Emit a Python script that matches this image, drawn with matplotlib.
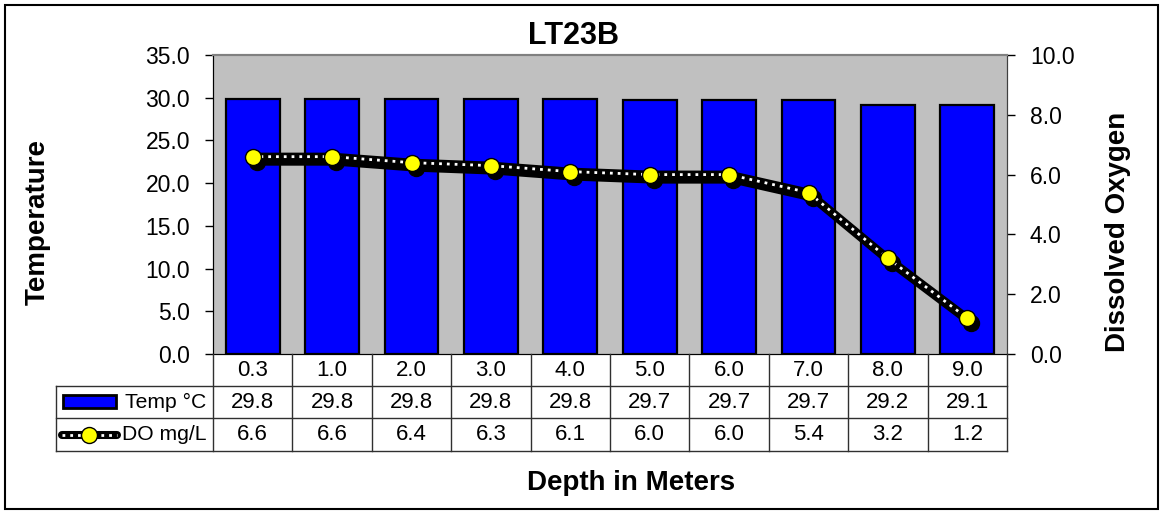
import matplotlib
matplotlib.use('Agg')
import matplotlib.pyplot as plt
import matplotlib.transforms as mtransforms
from matplotlib.patches import Rectangle
from matplotlib.lines import Line2D
import numpy as np

# ---- data ----
depths = ['0.3', '1.0', '2.0', '3.0', '4.0', '5.0', '6.0', '7.0', '8.0', '9.0']
temp_c = [29.8, 29.8, 29.8, 29.8, 29.8, 29.7, 29.7, 29.7, 29.2, 29.1]
do_mgl = [6.6, 6.6, 6.4, 6.3, 6.1, 6.0, 6.0, 5.4, 3.2, 1.2]
temp_ticks = [0, 5, 10, 15, 20, 25, 30, 35]
do_ticks = [0, 2, 4, 6, 8, 10]
title = 'LT23B'
row_labels = ['Temp \u00b0C', 'DO mg/L']

plt.rcParams['font.family'] = ['Liberation Sans', 'DejaVu Sans']

W, H = 1164, 514
fig = plt.figure(figsize=(W / 100, H / 100), dpi=100)
fig.patch.set_facecolor('white')


def fx(x):
    return x / W


def fy(y):
    return 1 - y / H


L, R, T, B = 213, 1007, 55, 354
ROW1, ROW2, ROW3 = 386, 418, 451
LEGL = 56
FS = 16.5
FS_TAB = 16
FS_ROW = 15.2
LW_LINE = 5.8
LW_DOT = 2.0
DOTS = (0, (1, 1.8))
MS = 11.5

ax = fig.add_axes([fx(L), fy(B), (R - L) / W, (B - T) / H])
ax.set_facecolor('#C0C0C0')
x = np.arange(len(depths))
ax.bar(x, temp_c, width=0.68, color='#0000FF', edgecolor='black', linewidth=1.6, zorder=2)
ax.set_xlim(-0.5, len(depths) - 0.5)
ax.set_ylim(0, 35)
ax.set_yticks(temp_ticks)
ax.set_yticklabels([f'{v:.1f}' for v in temp_ticks], fontsize=FS)
ax.tick_params(axis='y', direction='out', length=6, width=1, pad=10.5)
ax.set_xticks([])

ax2 = ax.twinx()
ax2.set_ylim(0, 10)
ax2.set_yticks(do_ticks)
ax2.set_yticklabels([f'{v:.1f}' for v in do_ticks], fontsize=FS)
ax2.tick_params(axis='y', direction='out', length=6, width=1, pad=10.5)
ax2.set_xlim(-0.5, len(depths) - 0.5)

for a in (ax, ax2):
    a.spines['top'].set_color('#808080')
    a.spines['top'].set_linewidth(1.5)
    a.spines['left'].set_color('black')
    a.spines['right'].set_color('#404040')
    a.spines['bottom'].set_color('black')

shadow = mtransforms.offset_copy(ax2.transData, fig=fig, x=4, y=-5, units='dots')
ax2.plot(x, do_mgl, color='black', lw=LW_LINE, marker='o', ms=MS, mfc='black', mec='black',
         transform=shadow, zorder=3, clip_on=False)
ax2.plot(x, do_mgl, color='black', lw=LW_LINE, zorder=4, solid_joinstyle='round', clip_on=False)
ax2.plot(x, do_mgl, color='white', lw=LW_DOT, linestyle=DOTS, zorder=5, clip_on=False)
ax2.plot(x, do_mgl, ls='none', marker='o', ms=MS, mfc='#FFFF00', mec='black', mew=1,
         zorder=6, clip_on=False)

# ---- data table ----
bt = mtransforms.blended_transform_factory(ax.transData, fig.transFigure)
lc = '#303030'
for i in range(len(depths) + 1):
    fig.add_artist(Line2D([i - 0.5, i - 0.5], [fy(B), fy(ROW3)], transform=bt, color=lc, lw=1))
fig.add_artist(Line2D([fx(LEGL), fx(LEGL)], [fy(ROW1), fy(ROW3)], transform=fig.transFigure, color=lc, lw=1))
for yy in (ROW1, ROW2, ROW3):
    fig.add_artist(Line2D([fx(LEGL), fx(R)], [fy(yy), fy(yy)], transform=fig.transFigure, color=lc, lw=1))

for i in range(len(depths)):
    fig.text(i, fy((B + ROW1) / 2), depths[i], transform=bt, ha='center', va='center', fontsize=FS_TAB)
    fig.text(i, fy((ROW1 + ROW2) / 2), f'{temp_c[i]:.1f}', transform=bt, ha='center', va='center',
             fontsize=FS_TAB)
    fig.text(i, fy((ROW2 + ROW3) / 2), f'{do_mgl[i]:.1f}', transform=bt, ha='center', va='center',
             fontsize=FS_TAB)

# legend keys
fig.add_artist(Rectangle((fx(63), fy(408)), (116 - 63) / W, (408 - 395) / H, transform=fig.transFigure,
                         fc='#0000FF', ec='black', lw=2))
ky = fy((ROW2 + ROW3) / 2)
fig.add_artist(Line2D([fx(62), fx(117)], [ky, ky], transform=fig.transFigure, color='black', lw=LW_LINE,
                      solid_capstyle='round'))
fig.add_artist(Line2D([fx(62), fx(117)], [ky, ky], transform=fig.transFigure, color='white', lw=LW_DOT,
                      linestyle=DOTS))
fig.add_artist(Line2D([fx(89)], [ky], transform=fig.transFigure, ls='none', marker='o', ms=MS,
                      mfc='#FFFF00', mec='black', mew=1))
fig.text(fx(206), fy((ROW1 + ROW2) / 2), row_labels[0], ha='right', va='center', fontsize=FS_ROW)
fig.text(fx(206), fy((ROW2 + ROW3) / 2), row_labels[1], ha='right', va='center', fontsize=FS_ROW)

# ---- titles ----
fig.text(fx(573), fy(36), title, ha='center', va='center', fontsize=22, fontweight='bold')
fig.text(fx(38), fy(222), 'Temperature', rotation=90, ha='center', va='center', fontsize=20, fontweight='bold')
fig.text(fx(1118), fy(232), 'Dissolved Oxygen', rotation=90, ha='center', va='center', fontsize=20,
         fontweight='bold')
fig.text(fx(631), fy(483), 'Depth in Meters', ha='center', va='center', fontsize=20, fontweight='bold')

# outer border
fig.add_artist(Rectangle((fx(5), fy(509)), (1158 - 5) / W, (509 - 5) / H, transform=fig.transFigure,
                         fill=False, ec='black', lw=1.5))

fig.savefig('out.png', dpi=100)
